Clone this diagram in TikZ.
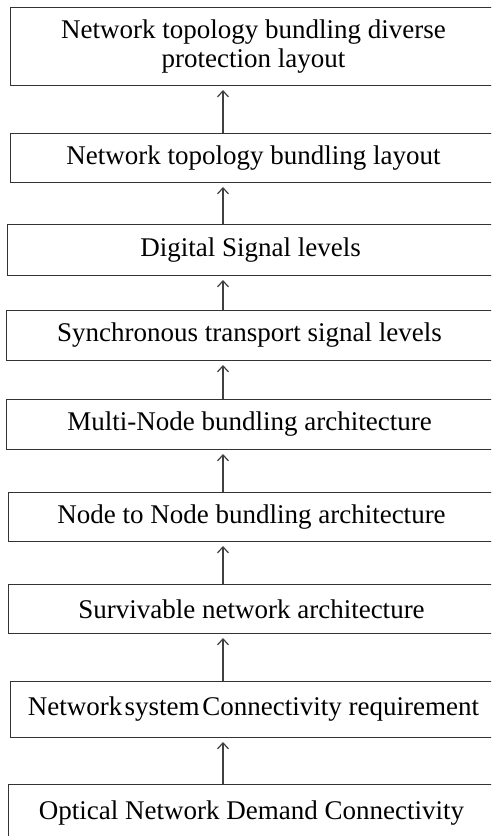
\documentclass[tikz,border=0pt]{standalone}
\usepackage{fontspec}
\setmainfont{Liberation Serif}
\usetikzlibrary{arrows.meta}

\begin{document}
\begin{tikzpicture}[x=1pt, y=-1pt, font=\fontsize{27}{29}\selectfont,
    layer/.style={draw=black!80, line width=1pt, anchor=north west,
      minimum width=486pt, inner sep=0pt, align=center},
    up/.style={-{Straight Barb[length=6pt, width=11pt]}, draw=black!75,
      line width=1.2pt, shorten >=4pt}]
  \useasboundingbox (0,0) rectangle (491,836);
  \clip (0,0) rectangle (491,836);
  % Layers, top to bottom
  \node[layer, minimum height=78pt] (divprot) at (10,7)
      {Network topology bundling diverse\\protection layout};
  \node[layer, minimum height=49pt] (topo)   at (10,133) {Network topology bundling layout};
  \node[layer, minimum height=51pt] (dsl)    at (7,224)  {Digital Signal levels};
  \node[layer, minimum height=50pt] (stsl)   at (6,310)  {Synchronous transport signal levels};
  \node[layer, minimum height=50pt] (multi)  at (6,399)  {Multi-Node bundling architecture};
  \node[layer, minimum height=49pt] (n2n)    at (8,492)  {Node to Node bundling architecture};
  \node[layer, minimum height=49pt] (surv)   at (8,584)  {Survivable network architecture};
  \node[layer, minimum height=56pt] (connreq) at (10,681)
      {Network\hspace{0.08em}system\hspace{0.1em}Connectivity requirement};
  \node[layer, minimum height=58pt] (demand) at (8,784)  {Optical Network Demand Connectivity};
  % Arrows up the stack
  \coordinate (col) at (223,0);
  \draw[up] (topo.north -| col)    -- (divprot.south -| col);
  \draw[up] (dsl.north -| col)     -- (topo.south -| col);
  \draw[up] (stsl.north -| col)    -- (dsl.south -| col);
  \draw[up] (multi.north -| col)   -- (stsl.south -| col);
  \draw[up] (n2n.north -| col)     -- (multi.south -| col);
  \draw[up] (surv.north -| col)    -- (n2n.south -| col);
  \draw[up] (connreq.north -| col) -- (surv.south -| col);
  \draw[up] (demand.north -| col)  -- (connreq.south -| col);
\end{tikzpicture}
\end{document}
